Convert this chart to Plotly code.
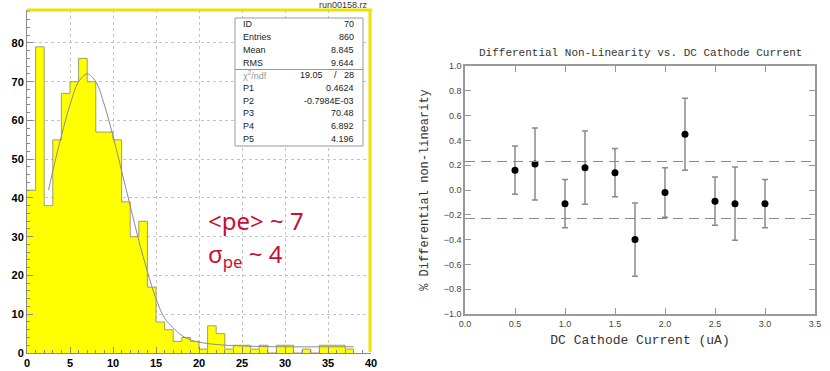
import plotly.graph_objects as go

W, H = 830, 371

# ---- left panel: photo-electron histogram (1 unit bins, 0..40)
bin_left = list(range(0, 38))
counts = [42, 79, 38, 55, 67, 70, 76, 70, 57, 57,
          55, 39, 30, 34, 17, 8, 6, 3, 4, 3,
          1, 7, 5, 1, 2, 2, 1, 2, 0, 2,
          2, 0, 1, 0, 2, 2, 2, 1]

# fitted curve
fit_x = [2.5, 3, 4, 5, 6, 7, 8, 9, 10, 11, 12, 13, 14, 15, 16, 17, 18, 19, 20, 22, 25, 30, 35, 38]
fit_y = [42, 47, 56, 64, 70, 72, 70, 64, 56, 47, 38, 29, 21, 14, 9, 6.5, 4.5, 3.4, 2.8, 2.2, 1.8, 1.6, 1.6, 1.6]

stat_labels = ["ID", "Entries", "Mean", "RMS"]
stat_values = ["70", "860", "8.845", "9.644"]
chi2_text = ["19.05", "/", "28"]
par_labels = ["P1", "P2", "P3", "P4", "P5"]
par_values = ["0.4624", "-0.7984E-03", "70.48", "6.892", "4.196"]

# ---- right panel: differential non-linearity
current = [0.5, 0.7, 1.0, 1.2, 1.5, 1.7, 2.0, 2.2, 2.5, 2.7, 3.0]
dnl = [0.16, 0.21, -0.11, 0.18, 0.14, -0.40, -0.02, 0.45, -0.09, -0.11, -0.11]
dnl_err = [0.195, 0.29, 0.195, 0.295, 0.195, 0.295, 0.2, 0.29, 0.195, 0.295, 0.195]
band = [0.23, -0.23]


def px(x):
    return x / W


def py(y):
    return 1 - y / H


fig = go.Figure()

centers = [b + 0.5 for b in bin_left]
fig.add_trace(go.Bar(x=centers, y=counts, width=1, marker=dict(color="#ffff00", line_width=0),
                     xaxis="x", yaxis="y", showlegend=False))
# outline of the histogram
fig.add_trace(go.Scatter(x=bin_left + [bin_left[-1] + 1], y=counts + [counts[-1]], mode="lines",
                         line=dict(shape="hv", color="#a0a060", width=1),
                         xaxis="x", yaxis="y", showlegend=False))
fig.add_trace(go.Scatter(x=fit_x, y=fit_y, mode="lines", line=dict(shape="spline", color="#8c8c8c", width=1),
                         xaxis="x", yaxis="y", showlegend=False))

fig.add_trace(go.Scatter(x=current, y=dnl, mode="markers",
                         marker=dict(color="black", size=7),
                         error_y=dict(type="data", array=dnl_err, color="#8a8a8a", thickness=1.5, width=3),
                         xaxis="x2", yaxis="y2", showlegend=False))

mono = "Courier New, Liberation Mono, monospace"
sans = "Liberation Sans, Arial, sans-serif"

fig.update_layout(
    width=W, height=H, margin=dict(l=0, r=0, t=0, b=0),
    paper_bgcolor="white", plot_bgcolor="white", bargap=0,
    xaxis=dict(domain=[px(27), px(371)], range=[0, 40], dtick=5, ticks="inside", ticklen=6,
               tickcolor="#888", showline=True, linecolor="#888", linewidth=1, automargin=False,
               showgrid=True, gridcolor="#c4c4c4", griddash="dot", zeroline=False,
               minor=dict(ticks="inside", dtick=1, ticklen=3, tickcolor="#888"),
               tickfont=dict(family=sans, size=11, color="black", weight="bold")),
    yaxis=dict(domain=[py(353), py(10)], range=[0, 88.5], dtick=10, ticks="inside", ticklen=6,
               tickcolor="#888", showline=True, linecolor="#888", linewidth=1, automargin=False,
               showgrid=True, gridcolor="#c4c4c4", griddash="dot", zeroline=False,
               minor=dict(ticks="inside", dtick=2, ticklen=3, tickcolor="#888"),
               tickfont=dict(family=sans, size=11, color="black", weight="bold")),
    xaxis2=dict(domain=[px(465), px(815)], range=[0, 3.5], dtick=0.5, tickformat=".1f", anchor="y2",
                ticks="inside", ticklen=6, tickcolor="#999", showline=True, mirror="ticks",
                linecolor="#999", linewidth=1.5, showgrid=False, zeroline=False, automargin=False,
                tickfont=dict(family=sans, size=9, color="#444"),
                title=dict(text="DC Cathode Current (uA)", standoff=7,
                           font=dict(family=mono, size=13, color="#333"))),
    yaxis2=dict(domain=[py(314), py(66)], range=[-1, 1], dtick=0.2, tickformat=".1f", anchor="x2",
                ticks="inside", ticklen=6, tickcolor="#999", showline=True, mirror="ticks",
                linecolor="#999", linewidth=1.5, showgrid=False, zeroline=False, automargin=False,
                tickfont=dict(family=sans, size=9, color="#444"),
                title=dict(text="% Differential non-linearity", standoff=12,
                           font=dict(family=mono, size=12, color="#333"))),
)

shapes = []
for lvl in band:
    shapes.append(dict(type="line", xref="x2 domain", x0=0, x1=1, yref="y2", y0=lvl, y1=lvl,
                       line=dict(color="#8a8a8a", width=1.2, dash="10px,6px")))
# yellow frame of the histogram pad
shapes.append(dict(type="line", xref="paper", yref="paper", x0=px(27), x1=px(372), y0=py(10), y1=py(10),
                   line=dict(color="#f0e000", width=3)))
shapes.append(dict(type="line", xref="paper", yref="paper", x0=px(370), x1=px(370), y0=py(10), y1=py(352),
                   line=dict(color="#f0e000", width=3)))
# stats box
shapes.append(dict(type="rect", xref="paper", yref="paper", x0=px(235), x1=px(363), y0=py(146), y1=py(18),
                   fillcolor="white", line=dict(color="#999", width=1)))
shapes.append(dict(type="line", xref="paper", yref="paper", x0=px(235), x1=px(363), y0=py(69.5), y1=py(69.5),
                   line=dict(color="#999", width=1)))
fig.update_layout(shapes=shapes)

ann = []


def txt(s, x, y, anchor="left", size=9, color="#222", family=sans, **kw):
    ann.append(dict(text=s, x=px(x), y=py(y), xref="paper", yref="paper", xanchor=anchor,
                    yanchor="middle", showarrow=False, font=dict(family=family, size=size, color=color), **kw))


row_y = 24.5
for lab, val in zip(stat_labels, stat_values):
    txt(lab, 241, row_y)
    txt(val, 356, row_y, anchor="right")
    row_y += 12.7
txt("χ<sup>2</sup>/ndf", 241, row_y, color="#999")
txt(chi2_text[0], 325, row_y, anchor="right")
txt(chi2_text[1], 335, row_y, anchor="center")
txt(chi2_text[2], 356, row_y, anchor="right")
row_y += 12.7
for lab, val in zip(par_labels, par_values):
    txt(lab, 241, row_y)
    txt(val, 356, row_y, anchor="right")
    row_y += 12.7

txt("run00158.rz", 370, 5, anchor="right", size=9, color="#333")
txt("&lt;pe&gt; ~ 7", 206, 221, size=24, color="#c8102e", family="Noto Sans, sans-serif")
txt("σ<sub>pe</sub> ~ 4", 206, 255, size=24, color="#c8102e", family="Noto Sans, sans-serif")

txt("Differential Non-Linearity vs. DC Cathode Current", 640, 53, anchor="center", size=11,
    color="#333", family=mono)

fig.update_layout(annotations=ann)

# drop the default 8px body margin so the figure sits at the window corner
fig.write_html("out.html", config={"displayModeBar": False},
               post_script="document.body.style.margin = '0';")
